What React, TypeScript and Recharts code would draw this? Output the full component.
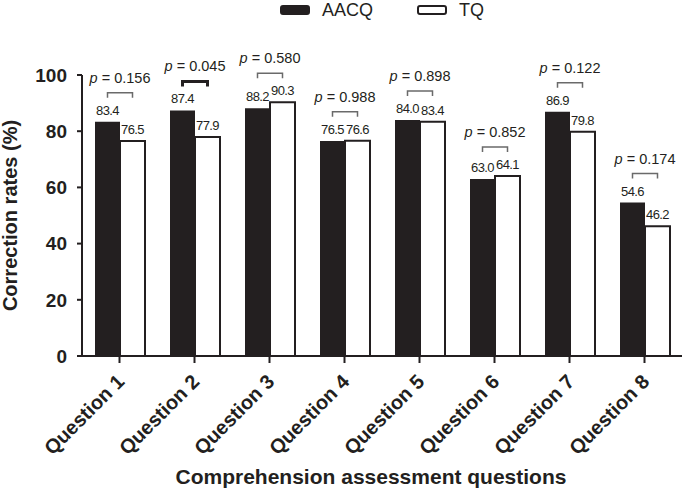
import React from 'react'
import { BarChart, Bar, XAxis, YAxis, Legend, LabelList, Label } from 'recharts'

const questions = ['Question 1', 'Question 2', 'Question 3', 'Question 4', 'Question 5', 'Question 6', 'Question 7', 'Question 8']
const aacqRates = [83.4, 87.4, 88.2, 76.5, 84.0, 63.0, 86.9, 54.6]
const tqRates = [76.5, 77.9, 90.3, 76.6, 83.4, 64.1, 79.8, 46.2]
const pValues = [0.156, 0.045, 0.58, 0.988, 0.898, 0.852, 0.122, 0.174]
const yTicks = [0, 20, 40, 60, 80, 100]

const INK = '#231f20'
const FONT = '"Liberation Sans", Arial, Helvetica, sans-serif'

const data = questions.map((q, i) => ({ name: q, AACQ: aacqRates[i], TQ: tqRates[i], p: pValues[i] }))

// legend swatch styles by series name
const swatch: Record<string, { fill: string }> = {
  AACQ: { fill: INK },
  TQ: { fill: '#ffffff' },
}

function LegendRow({ payload }: any) {
  return (
    <div style={{ display: 'flex', justifyContent: 'center', alignItems: 'center', height: 20, fontFamily: FONT, fontSize: 18, color: INK }}>
      {(payload || []).map((entry: any, i: number) => (
        <div key={entry.value} style={{ display: 'flex', alignItems: 'center', marginLeft: i === 0 ? 0 : 44 }}>
          <svg width={30} height={10} style={{ marginRight: 12 }}>
            <rect x={1} y={1} width={28} height={8} rx={2} fill={swatch[entry.value]?.fill} stroke={INK} strokeWidth={2} />
          </svg>
          <span>{entry.value}</span>
        </div>
      ))}
    </div>
  )
}

function QuestionTick({ x, y, payload }: any) {
  const tx = x + 6
  const ty = y + 18
  return (
    <text x={tx} y={ty} textAnchor="end" transform={`rotate(-45 ${tx} ${ty})`} fontSize={20} fontWeight="bold" fill={INK} fontFamily={FONT}>
      {payload.value}
    </text>
  )
}

// bracket + p value over each pair of bars, placed from the AACQ bar geometry
function PBracket(props: any) {
  const vb = props.viewBox && props.viewBox.width != null ? props.viewBox : props
  const { x, y, width, height } = vb
  const index = props.index
  const base = y + height
  const perUnit = height / aacqRates[index]
  const top = base - Math.max(aacqRates[index], tqRates[index]) * perUnit
  const cx = x + width
  const x1 = cx - width / 2
  const x2 = cx + width / 2
  const by = top - 29
  const sig = pValues[index] < 0.05
  return (
    <g>
      <path d={`M${x1},${by + 5}V${by}H${x2}V${by + 5}`} fill="none" stroke={sig ? INK : '#6a6a6a'} strokeWidth={sig ? 3 : 1.5} />
      <text x={cx} y={top - 39} textAnchor="middle" fontSize={14.5} fill={INK} fontFamily={FONT}>
        <tspan fontStyle="italic">p</tspan> = {pValues[index].toFixed(3)}
      </text>
    </g>
  )
}

function YTitle({ viewBox }: any) {
  const cx = viewBox.x + 10
  const cy = viewBox.y + viewBox.height / 2
  return (
    <text x={cx} y={cy} transform={`rotate(-90 ${cx} ${cy})`} textAnchor="middle" dominantBaseline="central" fontSize={20} fontWeight="bold" fill={INK} fontFamily={FONT}>
      Correction rates (%)
    </text>
  )
}

function XTitle({ viewBox }: any) {
  const cx = viewBox.x + viewBox.width / 2 - 11
  return (
    <text x={cx} y={viewBox.y + 128} textAnchor="middle" fontSize={21} fontWeight="bold" fill={INK} fontFamily={FONT}>
      Comprehension assessment questions
    </text>
  )
}

const valueLabel = { fontSize: 13, letterSpacing: -0.6, fill: INK, fontFamily: FONT }

export default function App() {
  return (
    <div style={{ position: 'absolute', left: 0, top: 0, width: 685, height: 489, background: '#fff' }}>
      <BarChart width={685} height={489} data={data} margin={{ top: 55, right: 3, bottom: 0, left: 0 }} barGap={0} barSize={25}>
        <Legend verticalAlign="top" content={<LegendRow />} wrapperStyle={{ top: 0, left: 82, width: 600 }} />
        <XAxis
          dataKey="name"
          height={133}
          interval={0}
          tickSize={7}
          axisLine={{ stroke: INK, strokeWidth: 2 }}
          tickLine={{ stroke: INK, strokeWidth: 2 }}
          tick={<QuestionTick />}
        >
          <Label content={<XTitle />} />
        </XAxis>
        <YAxis
          width={82}
          domain={[0, 100]}
          ticks={yTicks}
          tickSize={5}
          tickMargin={10}
          axisLine={{ stroke: INK, strokeWidth: 2 }}
          tickLine={{ stroke: INK, strokeWidth: 2 }}
          tick={{ fontSize: 19, fontWeight: 'bold', fill: INK, fontFamily: FONT }}
        >
          <Label content={<YTitle />} />
        </YAxis>
        <Bar dataKey="AACQ" fill={INK} isAnimationActive={false}>
          <LabelList dataKey="AACQ" position="top" offset={7} formatter={(v: any) => Number(v).toFixed(1)} style={valueLabel} />
          <LabelList dataKey="p" content={<PBracket />} />
        </Bar>
        <Bar dataKey="TQ" fill="#ffffff" stroke={INK} strokeWidth={2} isAnimationActive={false}>
          <LabelList dataKey="TQ" position="top" offset={7} formatter={(v: any) => Number(v).toFixed(1)} style={valueLabel} />
        </Bar>
      </BarChart>
    </div>
  )
}
